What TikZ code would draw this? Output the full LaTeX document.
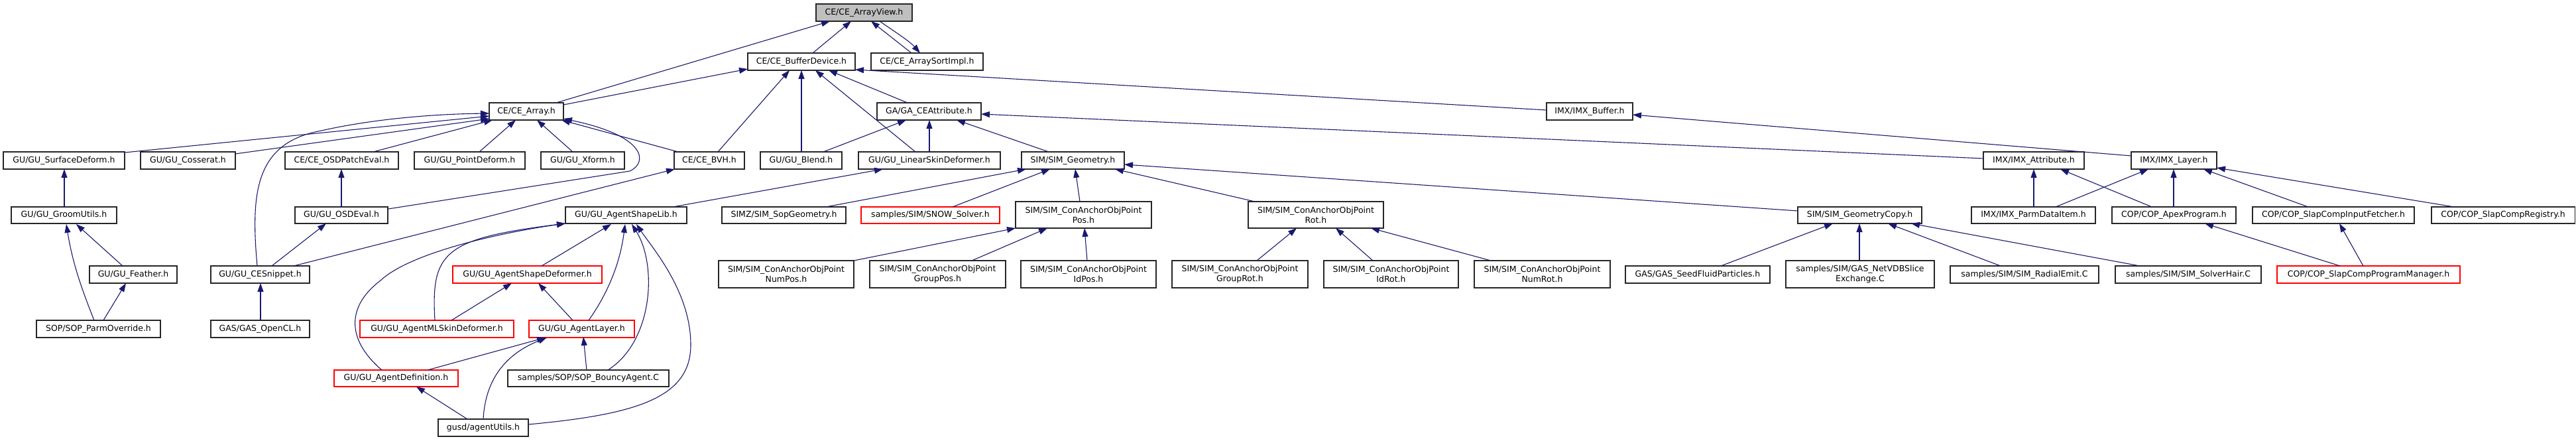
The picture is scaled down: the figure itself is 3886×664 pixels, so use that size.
\documentclass[tikz,border=0pt]{standalone}
\usepackage{fontspec}
\newfontfamily\nodefont{DejaVu Sans}
\usetikzlibrary{calc,arrows.meta}
\definecolor{edgec}{HTML}{191970}
\definecolor{rootfill}{HTML}{BFBFBF}
\tikzset{
  box/.style={draw=black!85, line width=1.1pt, fill=white, inner sep=0pt, outer sep=0pt,
    align=center, font={\nodefont\fontsize{12.5}{15}\selectfont}},
  redbox/.style={box, draw=red},
  rootbox/.style={box, fill=rootfill},
  dep/.style={draw=edgec, line width=1.1pt, -{Triangle[length=13pt,width=9pt]}},
}
\newcommand\bx[6][]{\node[box,#1,minimum width=#5pt-#3pt,minimum height=#6pt-#4pt] (#2) at ({(#3+#5)/2},{(#4+#6)/2})}
\newcommand\ap[3]{($(#1.north west)+(#2,#3)$)}
\begin{document}
\begin{tikzpicture}[x=1pt,y=-1pt]
\useasboundingbox (0,0) rectangle (3886,664);
% nodes
\bx[rootbox]{arrview}{1231}{6}{1376}{32}{CE/CE\_ArrayView.h};
\bx{bufdev}{1128}{80}{1290}{106}{CE/CE\_BufferDevice.h};
\bx{sortimpl}{1314}{80}{1483}{106}{CE/CE\_ArraySortImpl.h};
\bx{cearray}{738}{155}{850}{181}{CE/CE\_Array.h};
\bx{gaattr}{1323}{155}{1480}{181}{GA/GA\_CEAttribute.h};
\bx{imxbuf}{2333}{155}{2463}{181}{IMX/IMX\_Buffer.h};
\bx{sdef}{5}{229}{188}{255}{GU/GU\_SurfaceDeform.h};
\bx{coss}{212}{229}{355}{255}{GU/GU\_Cosserat.h};
\bx{ope}{430}{229}{601}{255}{CE/CE\_OSDPatchEval.h};
\bx{pdef}{625}{229}{792}{255}{GU/GU\_PointDeform.h};
\bx{xform}{816}{229}{942}{255}{GU/GU\_Xform.h};
\bx{bvh}{1017}{229}{1123}{255}{CE/CE\_BVH.h};
\bx{blend}{1147}{229}{1270}{255}{GU/GU\_Blend.h};
\bx{lskin}{1295}{229}{1509}{255}{GU/GU\_LinearSkinDeformer.h};
\bx{simgeo}{1541}{229}{1696}{255}{SIM/SIM\_Geometry.h};
\bx{imxattr}{2992}{229}{3144}{255}{IMX/IMX\_Attribute.h};
\bx{imxlayer}{3215}{229}{3344}{255}{IMX/IMX\_Layer.h};
\bx{groom}{17}{312}{176}{337}{GU/GU\_GroomUtils.h};
\bx{osdeval}{445}{312}{585}{337}{GU/GU\_OSDEval.h};
\bx{asl}{853}{312}{1036}{337}{GU/GU\_AgentShapeLib.h};
\bx{sopgeo}{1089}{312}{1276}{337}{SIMZ/SIM\_SopGeometry.h};
\bx[redbox]{snow}{1299}{312}{1508}{337}{samples/SIM/SNOW\_Solver.h};
\bx{pos}{1532}{304}{1737}{344}{SIM/SIM\_ConAnchorObjPoint\\Pos.h};
\bx{rot}{1883}{304}{2087}{344}{SIM/SIM\_ConAnchorObjPoint\\Rot.h};
\bx{gcopy}{2712}{312}{2899}{337}{SIM/SIM\_GeometryCopy.h};
\bx{parm}{2974}{312}{3161}{337}{IMX/IMX\_ParmDataItem.h};
\bx{apex}{3186}{312}{3373}{337}{COP/COP\_ApexProgram.h};
\bx{fetch}{3398}{312}{3642}{337}{COP/COP\_SlapCompInputFetcher.h};
\bx{reg}{3668}{312}{3884}{337}{COP/COP\_SlapCompRegistry.h};
\bx{feather}{135}{401}{267}{427}{GU/GU\_Feather.h};
\bx{snip}{318}{401}{467}{427}{GU/GU\_CESnippet.h};
\bx[redbox]{sdf}{683}{401}{908}{427}{GU/GU\_AgentShapeDeformer.h};
\bx{numpos}{1084}{393}{1288}{434}{SIM/SIM\_ConAnchorObjPoint\\NumPos.h};
\bx{grouppos}{1312}{393}{1517}{434}{SIM/SIM\_ConAnchorObjPoint\\GroupPos.h};
\bx{idpos}{1540}{393}{1744}{434}{SIM/SIM\_ConAnchorObjPoint\\IdPos.h};
\bx{grouprot}{1768}{393}{1973}{434}{SIM/SIM\_ConAnchorObjPoint\\GroupRot.h};
\bx{idrot}{1997}{393}{2200}{434}{SIM/SIM\_ConAnchorObjPoint\\IdRot.h};
\bx{numrot}{2224}{393}{2429}{434}{SIM/SIM\_ConAnchorObjPoint\\NumRot.h};
\bx{seed}{2452}{401}{2670}{427}{GAS/GAS\_SeedFluidParticles.h};
\bx{netvdb}{2694}{393}{2918}{434}{samples/SIM/GAS\_NetVDBSlice\\Exchange.C};
\bx{radial}{2942}{401}{3166}{427}{samples/SIM/SIM\_RadialEmit.C};
\bx{hair}{3191}{401}{3411}{427}{samples/SIM/SIM\_SolverHair.C};
\bx[redbox]{pm}{3435}{401}{3711}{427}{COP/COP\_SlapCompProgramManager.h};
\bx{po}{55}{483}{242}{509}{SOP/SOP\_ParmOverride.h};
\bx{opencl}{318}{483}{467}{509}{GAS/GAS\_OpenCL.h};
\bx[redbox]{mlskin}{543}{483}{775}{509}{GU/GU\_AgentMLSkinDeformer.h};
\bx[redbox]{layer}{798}{483}{957}{509}{GU/GU\_AgentLayer.h};
\bx[redbox]{adef}{504}{558}{691}{583}{GU/GU\_AgentDefinition.h};
\bx{bouncy}{766}{558}{1009}{583}{samples/SOP/SOP\_BouncyAgent.C};
\bx{utils}{661}{632}{797}{658}{gusd/agentUtils.h};
% edges
\draw[dep] \ap{bufdev}{98}{0} -- \ap{arrview}{53}{26};
\draw[dep] \ap{sortimpl}{61}{0} -- \ap{arrview}{83}{26};
\draw[dep] \ap{arrview}{96}{26} .. controls (1350,48) and (1372,62) .. \ap{sortimpl}{74}{0};
\draw[dep] \ap{cearray}{101}{0} -- \ap{arrview}{21}{26};
\draw[dep] \ap{cearray}{112}{3} -- \ap{bufdev}{0}{24};
\draw[dep] \ap{bvh}{66}{0} -- \ap{bufdev}{63}{26};
\draw[dep] \ap{blend}{62}{0} -- \ap{bufdev}{81}{26};
\draw[dep] \ap{lskin}{86}{0} -- \ap{bufdev}{102}{26};
\draw[dep] \ap{gaattr}{46}{0} -- \ap{bufdev}{122}{26};
\draw[dep] \ap{imxbuf}{0}{11} -- \ap{bufdev}{162}{25};
\draw[dep] \ap{blend}{95}{0} -- \ap{gaattr}{44}{26};
\draw[dep] \ap{lskin}{107}{0} -- \ap{gaattr}{79}{26};
\draw[dep] \ap{simgeo}{41}{0} -- \ap{gaattr}{120}{26};
\draw[dep] \ap{imxattr}{0}{10} -- \ap{gaattr}{157}{17};
\draw[dep] \ap{imxlayer}{0}{6} -- \ap{imxbuf}{130}{18};
\draw[dep] \ap{asl}{162}{0} -- \ap{lskin}{37}{26};
\draw[dep] \ap{sopgeo}{157}{0} -- \ap{simgeo}{7}{26};
\draw[dep] \ap{snow}{138}{0} -- \ap{simgeo}{43}{26};
\draw[dep] \ap{pos}{97}{0} -- \ap{simgeo}{81}{26};
\draw[dep] \ap{rot}{10}{0} -- \ap{simgeo}{141}{26};
\draw[dep] \ap{gcopy}{0}{6} -- \ap{simgeo}{155}{19};
\draw[dep] \ap{numpos}{204}{0} -- \ap{pos}{0}{40};
\draw[dep] \ap{grouppos}{154}{0} -- \ap{pos}{48}{40};
\draw[dep] \ap{idpos}{100}{0} -- \ap{pos}{104}{40};
\draw[dep] \ap{grouprot}{128}{0} -- \ap{rot}{73}{40};
\draw[dep] \ap{idrot}{74}{0} -- \ap{rot}{132}{40};
\draw[dep] \ap{numrot}{25}{0} -- \ap{rot}{185}{40};
\draw[dep] \ap{seed}{144}{0} -- \ap{gcopy}{53}{25};
\draw[dep] \ap{netvdb}{111}{0} -- \ap{gcopy}{93}{25};
\draw[dep] \ap{radial}{76}{0} -- \ap{gcopy}{136}{25};
\draw[dep] \ap{hair}{37}{0} -- \ap{gcopy}{171}{25};
\draw[dep] \ap{parm}{94}{0} -- \ap{imxattr}{76}{26};
\draw[dep] \ap{apex}{60}{0} -- \ap{imxattr}{116}{26};
\draw[dep] \ap{parm}{127}{0} -- \ap{imxlayer}{26}{26};
\draw[dep] \ap{apex}{93}{0} -- \ap{imxlayer}{64}{26};
\draw[dep] \ap{fetch}{84}{0} -- \ap{imxlayer}{109}{26};
\draw[dep] \ap{reg}{34}{0} -- \ap{imxlayer}{129}{24};
\draw[dep] \ap{pm}{95}{0} -- \ap{apex}{140}{25};
\draw[dep] \ap{pm}{130}{0} -- \ap{fetch}{131}{25};
\draw[dep] \ap{sdef}{183}{1} -- \ap{cearray}{0}{20};
\draw[dep] \ap{coss}{143}{3} -- \ap{cearray}{0}{24};
\draw[dep] \ap{ope}{133}{0} -- \ap{cearray}{5}{26};
\draw[dep] \ap{snip}{70}{0} .. controls (378,290) and (385,215) .. (485,197) .. controls (560,180) and (650,172) .. \ap{cearray}{0}{16};
\draw[dep] \ap{pdef}{98}{0} -- \ap{cearray}{40}{26};
\draw[dep] \ap{xform}{48}{0} -- \ap{cearray}{72}{26};
\draw[dep] \ap{bvh}{6}{0} -- \ap{cearray}{109}{26};
\draw[dep] \ap{osdeval}{141}{3} -- (950,258) .. controls (978,245) and (975,205) .. \ap{cearray}{112}{24};
\draw[dep] \ap{snip}{92}{0} -- \ap{osdeval}{47}{25};
\draw[dep] \ap{osdeval}{70}{0} -- \ap{ope}{85}{26};
\draw[dep] \ap{snip}{125}{0} -- \ap{bvh}{1}{26};
\draw[dep] \ap{opencl}{75}{0} -- \ap{snip}{75}{26};
\draw[dep] \ap{groom}{80}{0} -- \ap{sdef}{92}{26};
\draw[dep] \ap{feather}{50}{0} -- \ap{groom}{98}{26};
\draw[dep] \ap{po}{87}{0} .. controls (125,440) and (110,400) .. \ap{groom}{83}{26};
\draw[dep] \ap{po}{101}{0} -- \ap{feather}{55}{26};
\draw[dep] \ap{sdf}{134}{0} -- \ap{asl}{69}{26};
\draw[dep] \ap{layer}{90}{0} .. controls (915,445) and (935,400) .. \ap{asl}{90}{26};
\draw[dep] \ap{bouncy}{151}{0} .. controls (985,515) and (992,400) .. \ap{asl}{100}{26};
\draw[dep] \ap{utils}{136}{8} .. controls (960,625) and (1042,600) .. (1042,520) .. controls (1042,440) and (985,375) .. \ap{asl}{107}{26};
\draw[dep] \ap{mlskin}{113}{0} .. controls (650,380) and (670,360) .. \ap{asl}{0}{25};
\draw[dep] \ap{adef}{72}{0} .. controls (520,510) and (525,460) .. (574,423) .. controls (620,380) and (760,350) .. \ap{asl}{0}{25};
\draw[dep] \ap{mlskin}{138}{0} -- \ap{sdf}{89}{26};
\draw[dep] \ap{layer}{66}{0} -- \ap{sdf}{129}{26};
\draw[dep] \ap{adef}{141}{0} -- \ap{layer}{25}{26};
\draw[dep] \ap{utils}{68}{0} .. controls (732,575) and (760,535) .. \ap{layer}{27}{26};
\draw[dep] \ap{bouncy}{119}{0} -- \ap{layer}{82}{25};
\draw[dep] \ap{utils}{44}{0} -- \ap{adef}{124}{25};
\end{tikzpicture}
\end{document}
